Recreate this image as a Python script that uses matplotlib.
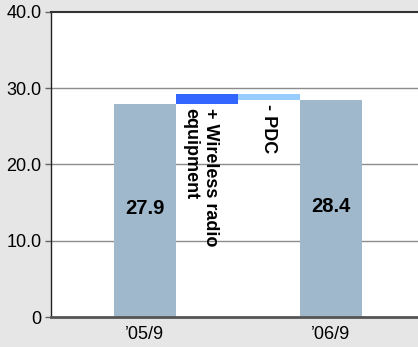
import matplotlib
matplotlib.use("Agg")
import matplotlib.pyplot as plt

plt.rcParams['font.family'] = ['Liberation Sans', 'DejaVu Sans']

# period totals and the bridge steps between them
periods = ["’05/9", "’06/9"]
totals = [27.9, 28.4]
step_labels = ["+ Wireless radio\nequipment", "- PDC"]
step_changes = [1.3, -0.8]
yticks = [0, 10, 20, 30, 40]
ytick_labels = ["0", "10.0", "20.0", "30.0", "40.0"]

total_color = "#9fb8cb"
step_colors = ["#3366ff", "#99ccff"]

fig = plt.figure(figsize=(4.18, 3.47), dpi=100, facecolor="#e6e6e6")
ax = fig.add_axes([0.122, 0.0856, 0.878, 0.881])
ax.set_facecolor("white")

# totals at the ends, steps in between
xs_tot = [0, 3]
ax.bar(xs_tot, totals, width=1.0, color=total_color, zorder=2)

level = totals[0]
for i, ch in enumerate(step_changes):
    lo = min(level, level + ch)
    ax.bar(i + 1, abs(ch), bottom=lo, width=1.0, color=step_colors[i], zorder=2)
    ax.text(i + 1 - 0.1 if i == 0 else i + 1, lo - 0.5, step_labels[i],
            rotation=270, ha="center", va="top", multialignment="left",
            fontsize=13, fontweight="bold", zorder=3)
    level += ch

for x, v in zip(xs_tot, totals):
    ax.text(x, v / 2 + 0.3, f"{v:.1f}", ha="center", va="center",
            fontsize=14.5, fontweight="bold", zorder=3)

ax.set_xlim(-1.51, 4.41)
ax.set_ylim(0, 40)
ax.set_yticks(yticks)
ax.set_yticklabels(ytick_labels, fontsize=13)
ax.set_xticks(xs_tot)
ax.set_xticklabels(periods, fontsize=13)
ax.tick_params(axis="x", length=0, pad=6)
ax.tick_params(axis="y", length=4, width=1, pad=3, color="#666666")

for y in yticks[1:-1]:
    ax.axhline(y, color="#8c8c8c", linewidth=1, zorder=1)

ax.spines["right"].set_visible(False)
ax.spines["left"].set_color("#222222")
ax.spines["left"].set_linewidth(1)
ax.spines["top"].set_color("#333333")
ax.spines["top"].set_linewidth(1.5)
ax.spines["bottom"].set_color("#555555")
ax.spines["bottom"].set_linewidth(2)

fig.savefig("out.png", dpi=100, facecolor=fig.get_facecolor())
